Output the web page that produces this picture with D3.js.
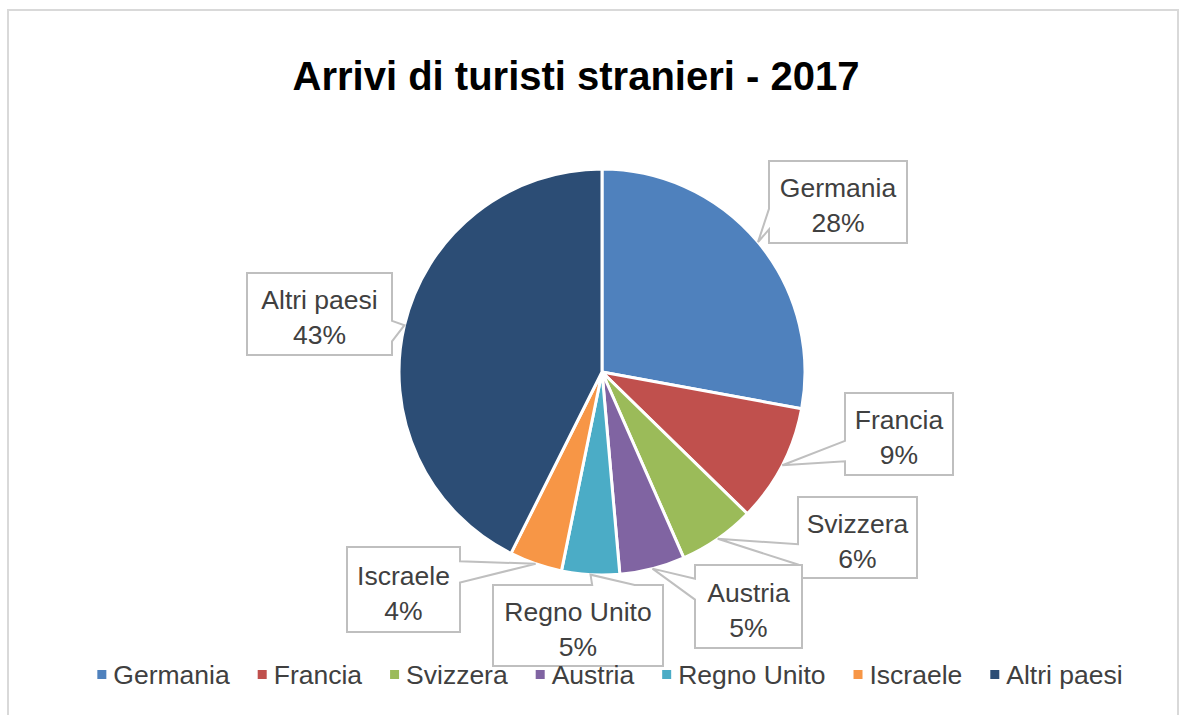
<!DOCTYPE html>
<html>
<head>
<meta charset="utf-8">
<script src="https://cdn.jsdelivr.net/npm/d3@7"></script>
<style>
  html, body { margin: 0; padding: 0; background: #fff; }
  svg { display: block; }
  text { font-family: "Liberation Sans", Arial, sans-serif; }
</style>
</head>
<body>
<svg id="chart" width="1184" height="715"></svg>
<script>
const title = "Arrivi di turisti stranieri - 2017";
const categories = ["Germania", "Francia", "Svizzera", "Austria", "Regno Unito", "Iscraele", "Altri paesi"];
const values = [27.9, 9.4, 6.1, 5.2, 4.6, 4.2, 42.6];
const colors = ["#4F81BD", "#C0504D", "#9BBB59", "#8064A2", "#4BACC6", "#F79646", "#2C4D75"];

const svg = d3.select("#chart");
const W = 1184, H = 715;

// frame
svg.append("rect").attr("x", 8).attr("y", 10).attr("width", 1170).attr("height", 720)
  .attr("fill", "#fff").attr("stroke", "#d9d9d9").attr("stroke-width", 2);

// title
svg.append("text").attr("x", 576).attr("y", 90).attr("text-anchor", "middle")
  .attr("font-size", 40).attr("font-weight", "bold").attr("fill", "#000").text(title);

const cx = 602, cy = 372, r = 203;
const total = d3.sum(values);
const data = categories.map((c, i) => ({ name: c, value: values[i], color: colors[i] }));
const pie = d3.pie().sort(null).value(d => d.value);
const arcs = pie(data);
const arc = d3.arc().innerRadius(0).outerRadius(r);
const edge = d3.arc().innerRadius(r).outerRadius(r);

const g = svg.append("g").attr("transform", `translate(${cx},${cy})`);
g.selectAll("path.slice").data(arcs).join("path").attr("class", "slice")
  .attr("d", arc).attr("fill", d => d.data.color)
  .attr("stroke", "#fff").attr("stroke-width", 3).attr("stroke-linejoin", "round");

// label boxes (layout)
const boxes = {
  "Germania":    { x: 769, y: 161, w: 138, h: 82 },
  "Francia":     { x: 845, y: 393, w: 108, h: 82 },
  "Svizzera":    { x: 798, y: 497, w: 119, h: 81 },
  "Austria":     { x: 695, y: 565, w: 107, h: 83 },
  "Regno Unito": { x: 493, y: 585, w: 170, h: 81 },
  "Iscraele":    { x: 347, y: 547, w: 113, h: 85 },
  "Altri paesi": { x: 247, y: 273, w: 145, h: 82 }
};

function callout(b, t) {
  const bx = b.x + b.w / 2, by = b.y + b.h / 2, dx = t[0] - bx, dy = t[1] - by;
  const L = b.x, R = b.x + b.w, T = b.y, B = b.y + b.h;
  const y1 = T + b.h * (dy > 0 ? 7 : 2) / 12, y2 = T + b.h * (dy > 0 ? 10 : 5) / 12;
  const x1 = L + b.w * (dx > 0 ? 7 : 2) / 12, x2 = L + b.w * (dx > 0 ? 10 : 5) / 12;
  let pts;
  if (Math.abs(dx) / b.w > Math.abs(dy) / b.h) {
    if (dx < 0) pts = [[L, T], [R, T], [R, B], [L, B], [L, y2], t, [L, y1]];
    else pts = [[L, T], [R, T], [R, y1], t, [R, y2], [R, B], [L, B]];
  } else {
    if (dy < 0) pts = [[L, T], [x1, T], t, [x2, T], [R, T], [R, B], [L, B]];
    else pts = [[L, T], [R, T], [R, B], [x2, B], t, [x1, B], [L, B]];
  }
  return "M" + pts.map(p => p.join(",")).join("L") + "Z";
}

const labels = svg.append("g");
arcs.forEach(d => {
  const b = boxes[d.data.name];
  const c = edge.centroid(d);
  const tip = [cx + c[0], cy + c[1]];
  labels.append("path").attr("d", callout(b, tip))
    .attr("fill", "#fff").attr("stroke", "#bfbfbf").attr("stroke-width", 2).attr("stroke-linejoin", "miter");
  const mx = b.x + b.w / 2, my = b.y + b.h / 2;
  const pct = Math.round(d.data.value / total * 100) + "%";
  labels.append("text").attr("x", mx).attr("y", my - 5).attr("text-anchor", "middle")
    .attr("font-size", 26.5).attr("fill", "#404040").text(d.data.name);
  labels.append("text").attr("x", mx).attr("y", my + 30).attr("text-anchor", "middle")
    .attr("font-size", 26.5).attr("fill", "#404040").text(pct);
});

// legend
const lg = svg.append("g");
const items = [];
let x = 0;
data.forEach((d, i) => {
  const it = lg.append("g");
  it.append("rect").attr("x", x).attr("y", 670).attr("width", 9).attr("height", 9).attr("fill", d.color);
  const t = it.append("text").attr("x", x + 16).attr("y", 684).attr("font-size", 26.5)
    .attr("fill", "#404040").text(d.name);
  const w = t.node().getComputedTextLength();
  x += 16 + w + 28;
});
const totalW = x - 28;
lg.attr("transform", `translate(${610 - totalW / 2},0)`);
</script>
</body>
</html>
